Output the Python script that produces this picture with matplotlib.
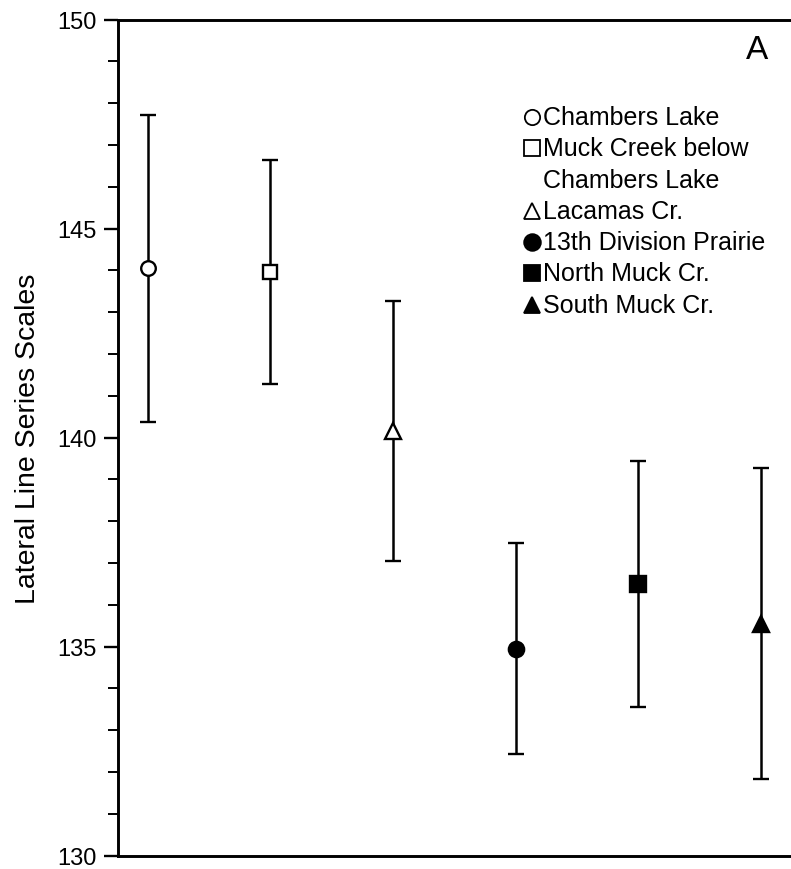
import matplotlib
matplotlib.use('Agg')
import matplotlib.pyplot as plt
import matplotlib.ticker as tck

plt.rcParams['font.family'] = ['Liberation Sans', 'DejaVu Sans']

# sites, in plotting order
sites = ['Chambers Lake', 'Muck Creek below\nChambers Lake', 'Lacamas Cr.',
         '13th Division Prairie', 'North Muck Cr.', 'South Muck Cr.']
means = [144.05, 143.96, 140.15, 134.95, 136.5, 135.55]
errs = [3.68, 2.68, 3.11, 2.52, 2.94, 3.72]  # +/- bars
markers = ['o', 's', '^', 'o', 's', '^']
faces = ['white', 'white', 'white', 'black', 'black', 'black']
msizes = [10.5, 10, 11, 11, 12, 12]

fig = plt.figure(figsize=(7.91, 8.70), dpi=100)
ax = fig.add_axes([0.1486, 0.0153, 0.8514, 0.961])

for i in range(len(sites)):
    ax.errorbar(i + 1, means[i], yerr=errs[i], fmt=markers[i], color='black',
                mfc=faces[i], mec='black', ms=msizes[i], mew=1.7,
                elinewidth=1.8, capsize=6, capthick=1.8, zorder=3)

ax.set_xlim(0.754, 6.243)
ax.set_ylim(130, 150)
ax.yaxis.set_major_locator(tck.MultipleLocator(5))
ax.yaxis.set_minor_locator(tck.MultipleLocator(1))
ax.set_xticks([])
ax.tick_params(axis='y', which='major', direction='out', length=10, width=1.7,
               labelsize=17, pad=5)
ax.tick_params(axis='y', which='minor', direction='out', length=7, width=1.4)
ax.spines['right'].set_visible(False)
for s in ['left', 'top', 'bottom']:
    ax.spines[s].set_linewidth(2.1)
ax.set_ylabel('Lateral Line Series Scales', fontsize=20.5, labelpad=12)

ax.text(0.949, 0.964, 'A', transform=ax.transAxes, fontsize=24,
        ha='center', va='center')

# legend built by hand so the marker sits on the first line of a wrapped label
def fy(px):  # figure pixel row -> axes fraction
    return 1 - (px - 20.7) / 836.0

row = 0
for i, name in enumerate(sites):
    y = fy(118 + 31.3 * row)
    ax.plot([0.6155], [y], marker=markers[i], mfc=faces[i], mec='black',
            ms=11 if faces[i] == 'white' else 12, mew=1.3, ls='none',
            transform=ax.transAxes, clip_on=False)
    lines = name.split('\n')
    for ln in lines:
        ax.text(0.6318, fy(118 + 31.3 * row), ln, transform=ax.transAxes,
                fontsize=18, ha='left', va='center')
        row += 1

fig.savefig('out.png', dpi=100)
